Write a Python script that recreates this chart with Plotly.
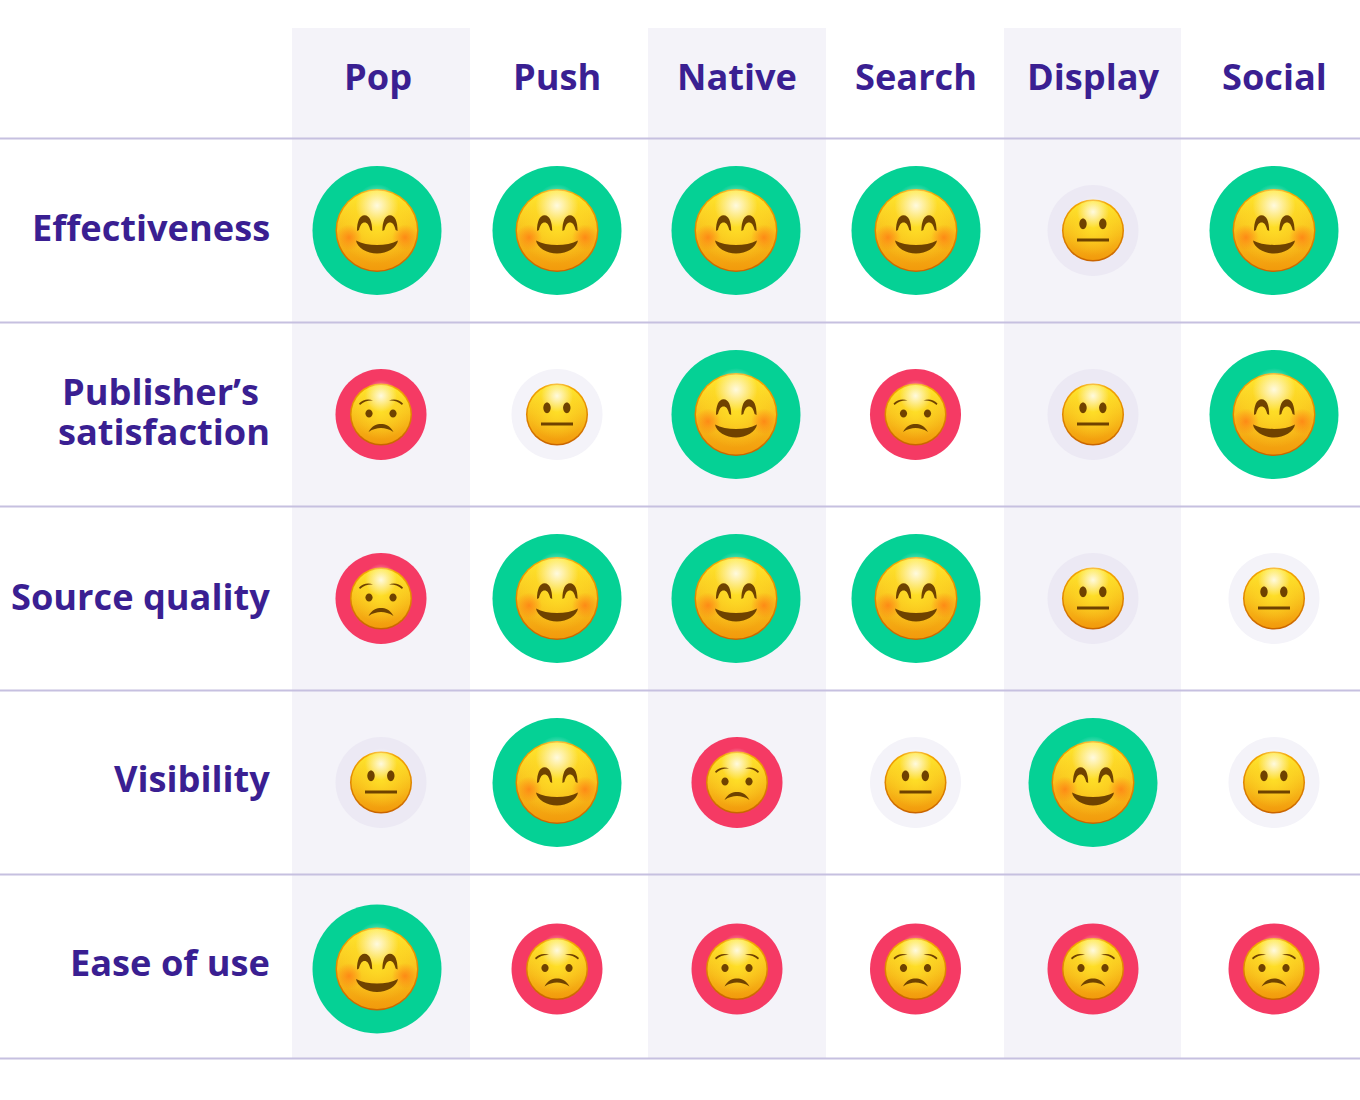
import plotly.graph_objects as go

# table content
columns = ["Pop", "Push", "Native", "Search", "Display", "Social"]
rows = ["Effectiveness", "Publisher’s\nsatisfaction", "Source quality", "Visibility", "Ease of use"]

# g = good, n = neutral, b = bad, one entry per row
pop = ["g", "b", "b", "n", "g"]
push = ["g", "n", "g", "g", "b"]
native = ["g", "g", "g", "b", "b"]
search = ["g", "b", "g", "n", "b"]
display = ["n", "n", "n", "g", "b"]
social = ["g", "g", "n", "n", "b"]
ratings = [pop, push, native, search, display, social]

# layout in page pixels
W, H = 1360, 1100
col_big = [377, 557, 736, 916, 1093, 1274]
col_small = [381, 557, 737, 915.5, 1093, 1274]
head_x = [378, 557, 737, 916, 1093, 1274]
row_y = [230.5, 414.5, 598.5, 782.5, 969]
label_y = [227, 411, 596, 778, 962]
two_line_x = [160.5, 163.5]
line_y = [138.5, 322.5, 506.5, 690.5, 874.5, 1058.5]
bands = [(292, 470), (648, 826), (1004, 1181)]

PURPLE = "#3a1f92"
BAND = "#f4f3f9"
BROWN = "#6f4200"
FONT = "Open Sans"
TEXT_SIZE = 36.2


def flip(cmds):
    # glyph paths are written y-down, pixel sized shapes want y-up
    out = []
    for c in cmds.split():
        if "," in c:
            a, b = c.split(",")
            out.append(f"{a},{-float(b)}")
        else:
            out.append(c)
    return " ".join(out)


def ellipse(x, y, rx, ry):
    return (f"M {x-rx},{y} C {x-rx},{y-ry*.55} {x-rx*.55},{y-ry} {x},{y-ry} "
            f"C {x+rx*.55},{y-ry} {x+rx},{y-ry*.55} {x+rx},{y} "
            f"C {x+rx},{y+ry*.55} {x+rx*.55},{y+ry} {x},{y+ry} "
            f"C {x-rx*.55},{y+ry} {x-rx},{y+ry*.55} {x-rx},{y} Z")


def arch(x):
    return (f"M {x-7.6},0.6 C {x-7.6},-9 {x-5},-15.3 {x},-15.3 C {x+5},-15.3 {x+7.6},-9 {x+7.6},0.6 "
            f"L {x+5.6},-0.6 C {x+4.5},-5.5 {x+2.5},-8 {x},-8 C {x-2.5},-8 {x-4.5},-5.5 {x-5.6},-0.6 Z")


smile_paths = [
    arch(-12.4),
    arch(13),
    "M -21,10 C -10,16 10,16 21,10 C 20,17 10,23 0,23 C -10,23 -20,17 -21,10 Z",
]
neutral_paths = [
    ellipse(-10, -6.7, 3.7, 5.4),
    ellipse(9.8, -6.7, 3.7, 5.4),
    "M -16,8 L 16,8 L 16,11 L -16,11 Z",
]
sad_paths = [
    ellipse(-12, -1, 3.6, 4),
    ellipse(12, -1, 3.6, 4),
    "M -22,-11 C -18,-15.5 -12,-16 -8,-14 C -12,-14.5 -17,-13.5 -21,-9.5 Z",
    "M 22,-11 C 18,-15.5 12,-16 8,-14 C 12,-14.5 17,-13.5 21,-9.5 Z",
    "M -12.5,17.5 C -9,11 -4,9.5 0,9.5 C 4,9.5 9,11 12.5,17.5 C 8,14.5 4,13.5 0,13.5 C -4,13.5 -8,14.5 -12.5,17.5 Z",
]
glyphs = {"g": smile_paths, "n": neutral_paths, "b": sad_paths}
ring_size = {"g": 129, "n": 91, "b": 91}
face_size = {"g": 83, "n": 62, "b": 62}
ring_color = {"g": "#05d195", "b": "#f53a64"}

xs, ys, kinds = [], [], []
ring_colors = []
for c, col in enumerate(ratings):
    for r, v in enumerate(col):
        xs.append(col_big[c] if v == "g" else col_small[c])
        ys.append(row_y[r])
        kinds.append(v)
        tinted = c % 2 == 0
        ring_colors.append(ring_color.get(v, "#ece9f4" if tinted else BAND))

fig = go.Figure()


def dots(x, y, size, color, gradient=None):
    # opacity has to be set, array sizes make plotly default to 0.7
    marker = dict(size=size, color=color, opacity=1, line=dict(width=0))
    if gradient:
        marker["gradient"] = gradient
    fig.add_trace(go.Scatter(x=x, y=y, mode="markers", marker=marker, hoverinfo="skip", showlegend=False))


# rings, then the face built up in layers
dots(xs, ys, [ring_size[k] for k in kinds], ring_colors)
fsize = [face_size[k] for k in kinds]
dots(xs, ys, fsize, "#f6a800", dict(type="vertical", color="#c96400"))
dots(xs, ys, [s - 3 for s in fsize], "#ffe92e", dict(type="vertical", color="#f29a0c"))
# yellow glow in the middle, gradient color is the centre for radial
dots(xs, [y - s * .06 for y, s in zip(ys, fsize)], [s * .92 for s in fsize],
     "rgba(255,222,40,0)", dict(type="radial", color="rgba(255,226,40,.9)"))
# soft highlight on top of the head
dots(xs, [y - s * .3 for y, s in zip(ys, fsize)], [s * .52 for s in fsize],
     "rgba(255,255,255,0)", dict(type="radial", color="rgba(255,255,255,.85)"))
# cheeks on the smiling ones
gx = [x for x, k in zip(xs, kinds) if k == "g"]
gy = [y for y, k in zip(ys, kinds) if k == "g"]
for side in (-28, 28):
    dots([x + side for x in gx], [y + 7 for y in gy], 26,
         "rgba(255,125,20,0)", dict(type="radial", color="rgba(255,125,20,.8)"))

shapes = []
for a, b in bands:
    shapes.append(dict(type="rect", x0=a, x1=b, y0=28, y1=line_y[-1], fillcolor=BAND, line_width=0, layer="below"))
for y in line_y:
    shapes.append(dict(type="line", x0=0, x1=W, y0=y, y1=y, line=dict(color="#c6c0e0", width=2), layer="below"))
for x, y, k in zip(xs, ys, kinds):
    for p in glyphs[k]:
        shapes.append(dict(type="path", path=flip(p), xsizemode="pixel", ysizemode="pixel", xanchor=x, yanchor=y,
                           fillcolor=BROWN, line_width=0, layer="above"))

text_font = dict(family=FONT, size=TEXT_SIZE, color=PURPLE, weight=700)
annotations = []
for name, x in zip(columns, head_x):
    annotations.append(dict(x=x, y=76, text=name, showarrow=False, xanchor="center", yanchor="middle", font=text_font))
for name, y in zip(rows, label_y):
    parts = name.split("\n")
    if len(parts) == 1:
        annotations.append(dict(x=272, y=y, text=name, showarrow=False, xanchor="right", yanchor="middle", font=text_font))
    else:
        for i, part in enumerate(parts):
            annotations.append(dict(x=two_line_x[i], y=y - 20 + i * 40, text=part, showarrow=False, xanchor="center",
                                    yanchor="middle", font=text_font))

fig.update_layout(
    width=W, height=H, margin=dict(l=0, r=0, t=0, b=0),
    paper_bgcolor="white", plot_bgcolor="white",
    shapes=shapes, annotations=annotations,
    xaxis=dict(range=[0, W], visible=False, fixedrange=True),
    yaxis=dict(range=[H, 0], visible=False, fixedrange=True),
)
fig.write_html("out.html", post_script="document.body.style.margin='0';", config={"displayModeBar": False})
